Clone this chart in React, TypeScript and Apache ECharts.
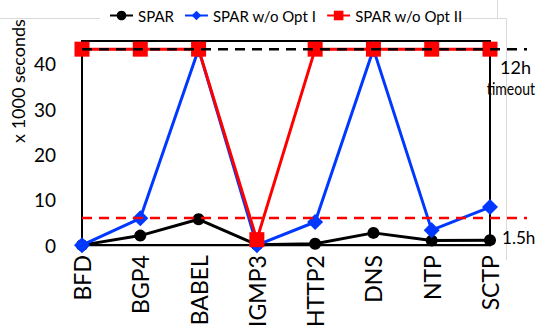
import React, { useEffect, useRef } from "react";
import * as echarts from "echarts";

const categories = ["BFD", "BGP4", "BABEL", "IGMP3", "HTTP2", "DNS", "NTP", "SCTP"];
const spar = [0, 2.1, 5.7, 0.1, 0.3, 2.7, 1.0, 1.1];
const sparNoOpt1 = [0, 5.9, 43.2, 0, 5.1, 43.2, 3.3, 8.4];
const sparNoOpt2 = [43.2, 43.2, 43.2, 1.2, 43.2, 43.2, 43.2, 43.2];
const timeoutLine = 43.2;
const lowLine = 6.0;
const yTicks = [0, 10, 20, 30, 40];
const seriesNames = ["SPAR", "SPAR w/o Opt I", "SPAR w/o Opt II"];

const FONT = "Lato";

export default function App() {
  const ref = useRef<HTMLDivElement>(null);
  useEffect(() => {
    if (!ref.current) return;
    const chart = echarts.init(ref.current, null, { renderer: "svg" });
    chart.setOption({
      animation: false,
      backgroundColor: "#fff",
      textStyle: { fontFamily: FONT },
      legend: {
        top: 3,
        left: 104,
        itemWidth: 23,
        itemHeight: 12,
        itemGap: 10,
        textStyle: { fontFamily: FONT, fontSize: 15, color: "#000" },
        data: seriesNames,
      },
      grid: {
        left: 82,
        right: 49,
        top: 41,
        bottom: 84,
        show: true,
        borderColor: "#000",
        borderWidth: 2,
        containLabel: false,
      },
      xAxis: {
        type: "category",
        data: categories,
        boundaryGap: false,
        axisLine: { lineStyle: { color: "#000", width: 2 } },
        axisTick: { show: false },
        axisLabel: {
          rotate: 90,
          margin: 10,
          fontSize: 23,
          fontFamily: FONT,
          color: "#000",
        },
      },
      yAxis: {
        type: "value",
        min: 0,
        max: 45,
        interval: 10,
        axisLine: { show: true, lineStyle: { color: "#000", width: 2 } },
        axisTick: { show: false },
        splitLine: { show: false },
        axisLabel: {
          margin: 26,
          fontSize: 19,
          fontFamily: FONT,
          color: "#000",
          showMaxLabel: false,
          formatter: (v: number) => (yTicks.includes(v) ? String(v) : ""),
        },
      },
      series: [
        {
          name: seriesNames[0],
          type: "line",
          data: spar,
          symbol: "circle",
          symbolSize: 12,
          z: 2,
          itemStyle: { color: "#000" },
          lineStyle: { color: "#000", width: 3 },
        },
        {
          name: seriesNames[1],
          type: "line",
          data: sparNoOpt1,
          symbol: "diamond",
          symbolSize: 16,
          z: 3,
          itemStyle: { color: "#0038ff" },
          lineStyle: { color: "#0038ff", width: 3 },
        },
        {
          name: seriesNames[2],
          type: "line",
          data: sparNoOpt2,
          symbol: "rect",
          symbolSize: 15,
          z: 4,
          itemStyle: { color: "#ff0000" },
          lineStyle: { color: "#ff0000", width: 3 },
        },
      ],
    });

    const x0 = chart.convertToPixel({ xAxisIndex: 0 }, categories[0]) as number;
    const yTimeout = chart.convertToPixel({ yAxisIndex: 0 }, timeoutLine) as number;
    const yLow = chart.convertToPixel({ yAxisIndex: 0 }, lowLine) as number;
    const yZero = chart.convertToPixel({ yAxisIndex: 0 }, 0) as number;
    const gray = "#d9d9d9";
    const noteStyle = { fontFamily: FONT, fontSize: 18, fill: "#000" };

    chart.setOption({
      graphic: [
        { type: "line", z: 0, shape: { x1: 0, y1: 18.5, x2: 100, y2: 18.5 }, style: { stroke: gray, lineWidth: 1 } },
        { type: "line", z: 0, shape: { x1: 455, y1: 18.5, x2: 497, y2: 18.5 }, style: { stroke: gray, lineWidth: 1 } },
        { type: "line", z: 0, shape: { x1: 497.5, y1: 0, x2: 497.5, y2: 18.5 }, style: { stroke: gray, lineWidth: 1 } },
        { type: "line", z: 0, shape: { x1: 497, y1: 18.5, x2: 506.5, y2: 18.5 }, style: { stroke: gray, lineWidth: 1 } },
        { type: "line", z: 0, shape: { x1: 506.5, y1: 18.5, x2: 506.5, y2: 260 }, style: { stroke: gray, lineWidth: 1 } },
        {
          type: "line",
          z: 100,
          shape: { x1: x0, y1: yLow, x2: 527, y2: yLow },
          style: { stroke: "#ff0000", lineWidth: 2.5, lineDash: [10, 7] },
        },
        {
          type: "line",
          z: 100,
          shape: { x1: x0, y1: yTimeout, x2: 527, y2: yTimeout },
          style: { stroke: "#000", lineWidth: 2.5, lineDash: [10, 7] },
        },
        {
          type: "text",
          z: 100,
          x: 500,
          y: yTimeout + 9,
          style: { text: "12h", ...noteStyle },
        },
        {
          type: "text",
          z: 100,
          x: 535,
          y: yTimeout + 31,
          scaleY: 1.2,
          style: { text: "timeout", fontFamily: FONT, fontSize: 14, fill: "#000", align: "right" },
        },
        {
          type: "text",
          z: 100,
          x: 502,
          y: yZero - 17,
          scaleX: 0.95,
          style: { text: "1.5h", ...noteStyle },
        },
        {
          type: "text",
          z: 100,
          x: 18,
          y: 81,
          rotation: Math.PI / 2,
          style: {
            text: "x 1000 seconds",
            fontFamily: FONT,
            fontSize: 18,
            fill: "#000",
            align: "center",
            verticalAlign: "middle",
          },
        },
      ],
    });

    return () => chart.dispose();
  }, []);
  return <div ref={ref} style={{ width: 539, height: 330, position: "fixed", left: 0, top: 0 }} />;
}
